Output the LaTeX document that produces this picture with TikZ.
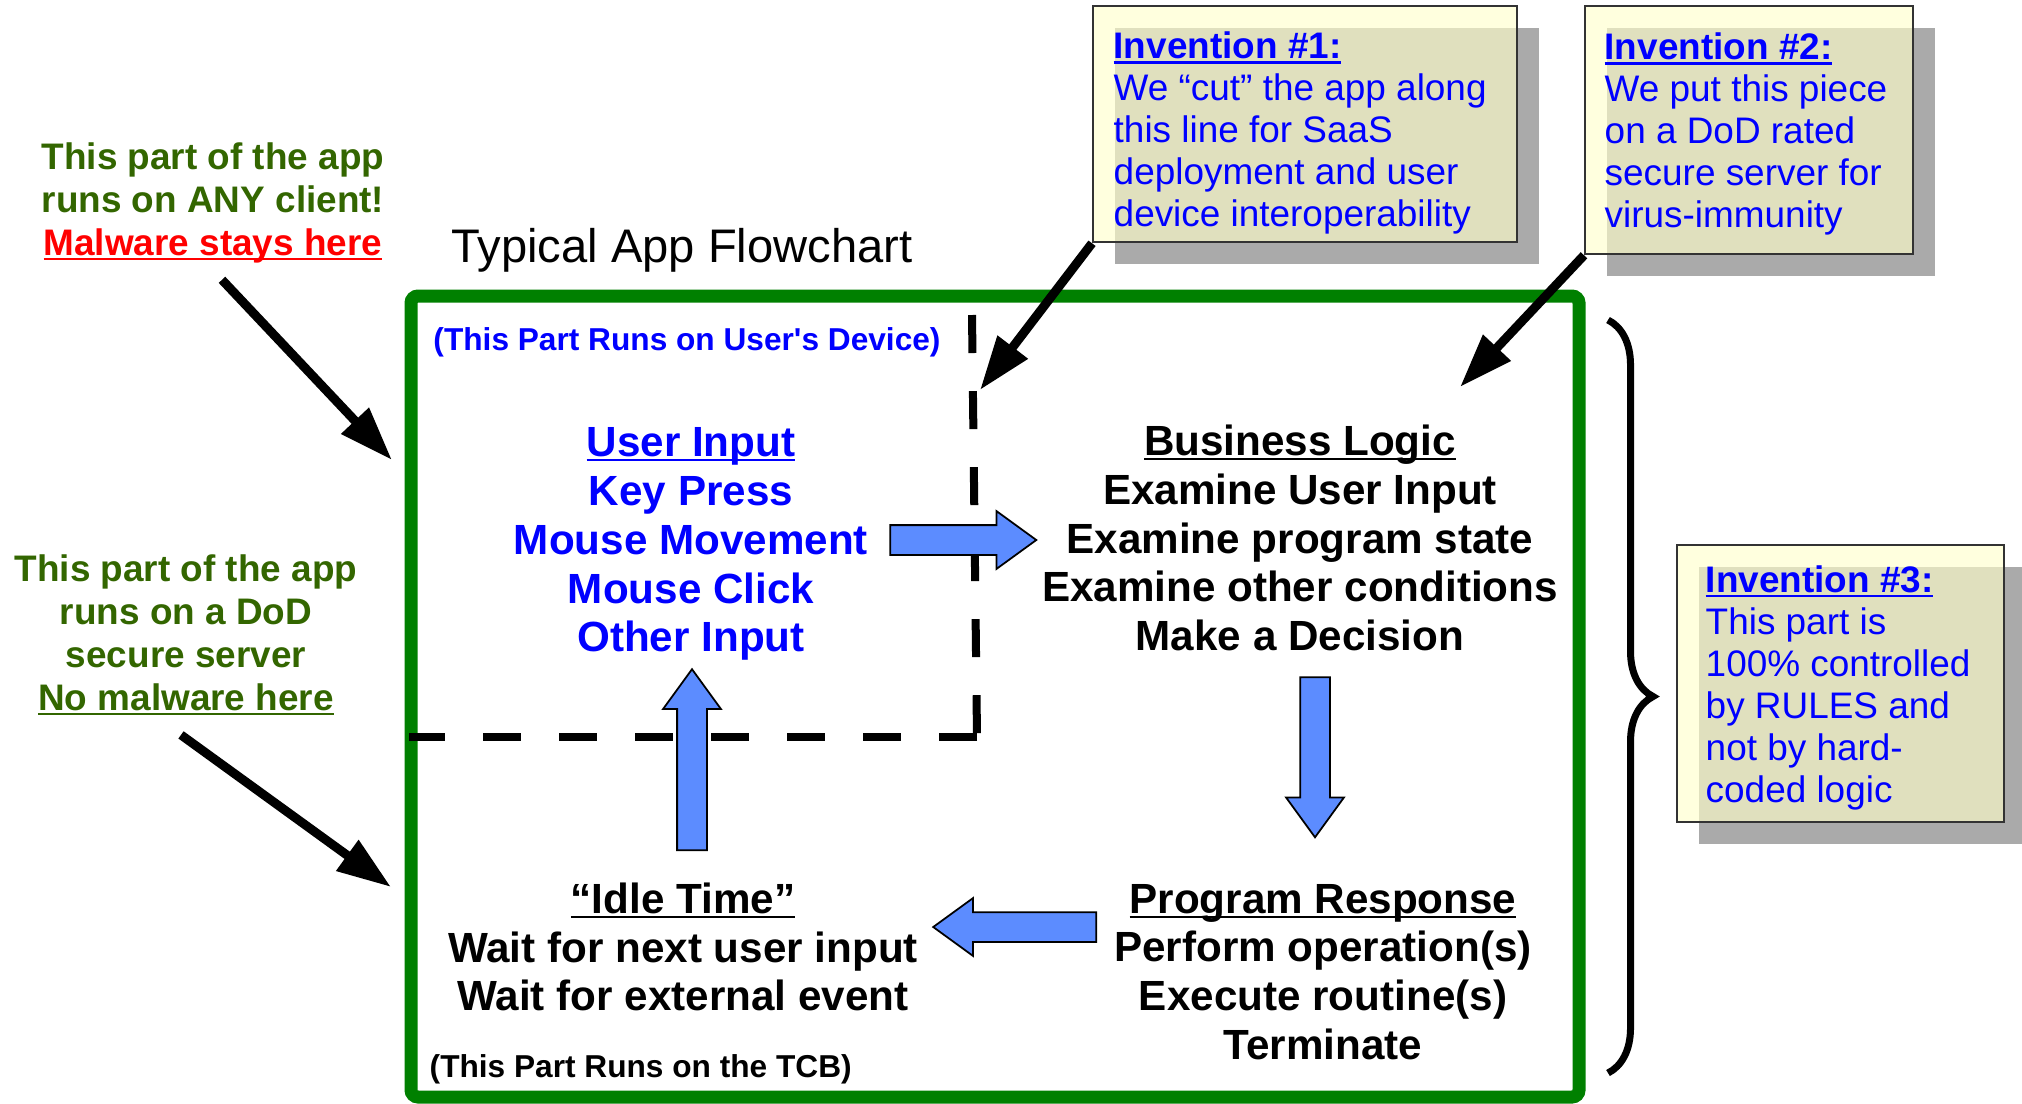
\documentclass[tikz,border=0pt]{standalone}
\usepackage{fontspec}
\setmainfont{Liberation Sans}
\usetikzlibrary{arrows.meta,shapes.arrows,shadows,decorations.pathreplacing}
\definecolor{framegreen}{RGB}{0,128,0}
\definecolor{notegreen}{RGB}{51,102,0}
\definecolor{arrowblue}{RGB}{92,140,255}
\definecolor{notefill}{RGB}{255,255,203}
\definecolor{noteshadow}{RGB}{170,170,170}
\newlength{\ulwidth}
\newcommand{\uln}[1]{\settowidth{\ulwidth}{#1}\rlap{\rule[-1.4pt]{\ulwidth}{0.6pt}}#1}

\begin{document}
\begin{tikzpicture}[x=0.01cm,y=-0.01cm,
  pointer/.style={line width=0.09cm,-{Triangle[length=0.54cm,width=0.36cm]}},
  cutline/.style={line width=0.08cm,dash pattern=on 0.38cm off 0.38cm},
  blockarrow/.style={single arrow,draw=black,line width=0.5pt,fill=arrowblue,
    inner xsep=0pt,inner ysep=0.14cm,single arrow head extend=0.14cm,
    single arrow tip angle=72,single arrow head indent=0pt},
  notebox/.style={draw=black!80,line width=0.6pt,fill=notefill,fill opacity=0.635,
    inner sep=0pt,anchor=north west,
    drop shadow={shadow xshift=0.22cm,shadow yshift=-0.22cm,fill=noteshadow,
      opacity=1,fill opacity=1,draw=none}},
  notetext/.style={font=\fontsize{10.5}{11.95}\selectfont,text=blue,align=left,inner sep=0pt},
  sidenote/.style={font=\fontsize{10.5}{12.2}\selectfont\bfseries,text=notegreen,align=center,inner sep=0pt},
  bigbold/.style={font=\fontsize{12}{13.9}\selectfont\bfseries,align=center,inner sep=0pt},
  partlabel/.style={font=\fontsize{9}{10.8}\selectfont\bfseries,inner sep=0pt}]
  \useasboundingbox (0,0) rectangle (2022,1103);
  %%% the app frame and the cut
  \draw[framegreen,line width=0.13cm,rounded corners=2pt] (411,296) rectangle (1579,1097);
  \path (972,315) coordinate (cutTop);
  \path (977,737) coordinate (cutCorner);
  \path (409,737) coordinate (cutLeft);
  \draw[cutline] (cutTop) -- (cutCorner);
  \draw[cutline] (cutCorner) -- (cutLeft);
  %%% text
  \node[font=\fontsize{13.4}{16}\selectfont,inner sep=0pt] (title) at (682,250) {Typical App Flowchart};
  \node[partlabel,text=blue] (device) at (687,342) {(This Part Runs on User\textquotesingle s Device)};
  \node[partlabel,anchor=west] (tcb) at (429,1069) {(This Part Runs on the TCB)};
  \node[sidenote] (client) at (213,203) {This part of the app\\runs on ANY client!\\
    \textcolor{red}{\uln{Malware stays here}}};
  \node[sidenote] (server) at (186,635) {This part of the app\\runs on a DoD\\secure server\\
    \uln{No malware here}};
  %%% the four steps
  \node[bigbold,text=blue] (input) at (691,544) {\uln{User Input}\\Key Press\\Mouse Movement\\
    Mouse Click\\Other Input};
  \node[bigbold] (logic) at (1300,538) {\uln{Business Logic}\\Examine User Input\\
    Examine program state\\Examine other conditions\\Make a Decision};
  \node[bigbold] (response) at (1323,972) {\uln{Program Response}\\Perform operation(s)\\
    Execute routine(s)\\Terminate};
  \node[bigbold] (idle) at (683,947) {\uln{“Idle Time”}\\Wait for next user input\\
    Wait for external event};
  %%% block arrows
  \node[blockarrow,minimum height=1.46cm] (toLogic) at (953,540) {};
  \node[blockarrow,minimum height=1.60cm,rotate=-90] (toResponse) at (1315,747) {};
  \node[blockarrow,minimum height=1.63cm,rotate=180] (toIdle) at (1025,927) {};
  \node[blockarrow,minimum height=1.81cm,rotate=90] (toInput) at (692,770) {};
  %%% brace
  \draw[line width=0.07cm,decorate,decoration={brace,amplitude=0.45cm}] (1608,320) -- (1608,1073);
  %%% notes
  \node[notebox,minimum width=4.24cm,minimum height=2.36cm] (inv1) at (1092,5) {};
  \node[notebox,minimum width=3.28cm,minimum height=2.48cm] (inv2) at (1584,5) {};
  \node[notebox,minimum width=3.27cm,minimum height=2.77cm] (inv3) at (1676,544) {};
  \node[notetext,anchor=west] (inv1text) at ([shift={(21,9)}]inv1.west)
    {\textbf{\uln{Invention \#1:}}\\We “cut” the app along\\this line for SaaS\\
     deployment and user\\device interoperability};
  \node[notetext,anchor=west] (inv2text) at ([shift={(20,4)}]inv2.west)
    {\textbf{\uln{Invention \#2:}}\\We put this piece\\on a DoD rated\\
     secure server for\\virus-immunity};
  \node[notetext,anchor=west] (inv3text) at ([shift={(29,4)}]inv3.west)
    {\textbf{\uln{Invention \#3:}}\\This part is\\100\% controlled\\by RULES and\\
     not by hard-\\coded logic};
  %%% pointers
  \path (392,460) coordinate (clientTip);
  \path (391,887) coordinate (serverTip);
  \path (980,390) coordinate (cutTip);
  \path (1460,387) coordinate (logicTip);
  \draw[pointer] ([shift={(9,16)}]client.south) -- (clientTip);
  \draw[pointer] ([shift={(-5,19)}]server.south) -- (serverTip);
  \draw[pointer] (inv1.south west) -- (cutTip);
  \draw[pointer] (inv2.south west) -- (logicTip);
\end{tikzpicture}
\end{document}
